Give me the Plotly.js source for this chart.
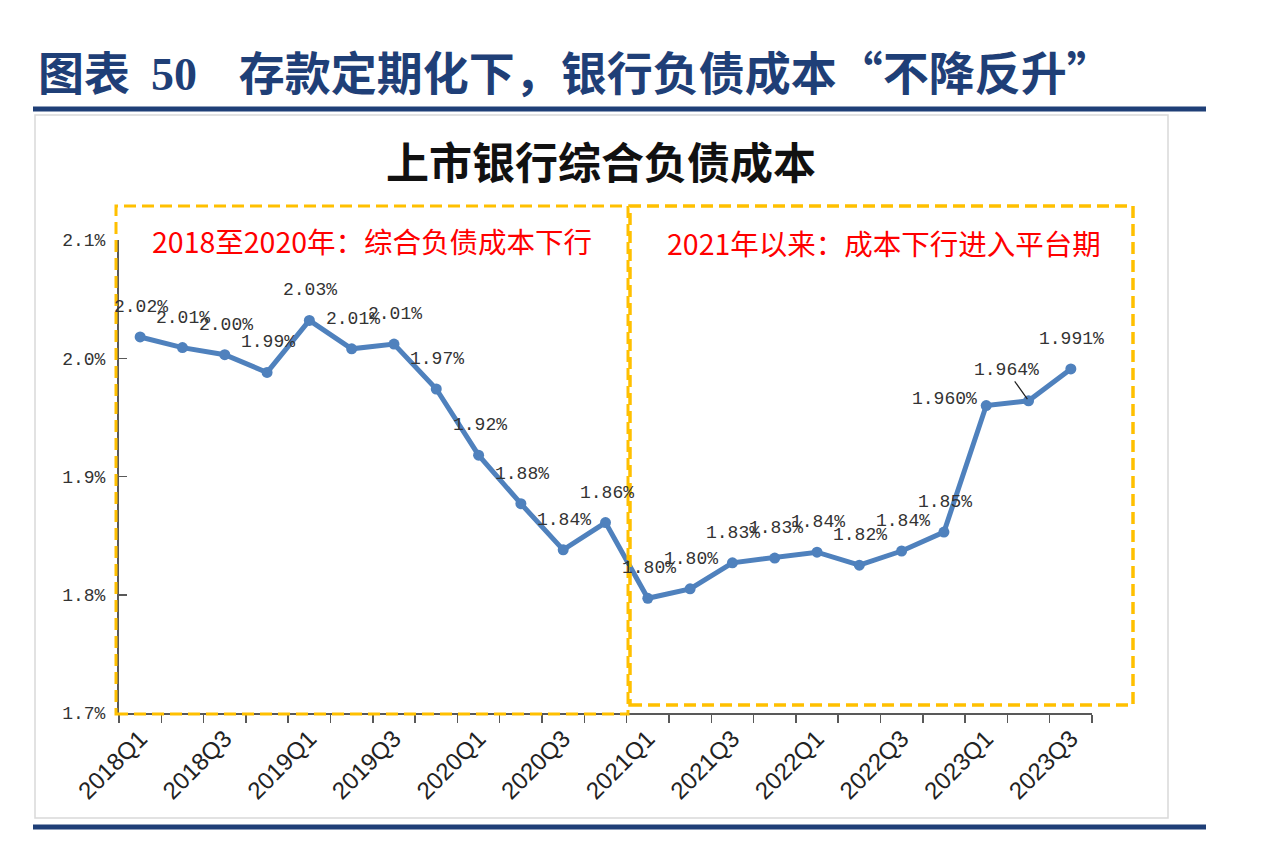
<!DOCTYPE html>
<html>
<head>
<meta charset="utf-8">
<script src="https://cdn.plot.ly/plotly-3.0.1.min.js"></script>
<style>
  body { margin: 0; background: #fff; }
  #chart { width: 1273px; height: 843px; }
</style>
</head>
<body>
<div id="chart"></div>
<script>
// 上市银行综合负债成本 (%)
var quarters = ['2018Q1', '2018Q2', '2018Q3', '2018Q4',
  '2019Q1', '2019Q2', '2019Q3', '2019Q4',
  '2020Q1', '2020Q2', '2020Q3', '2020Q4',
  '2021Q1', '2021Q2', '2021Q3', '2021Q4',
  '2022Q1', '2022Q2', '2022Q3', '2022Q4',
  '2023Q1', '2023Q2', '2023Q3'];

var cost = [2.018, 2.009, 2.003, 1.988,
  2.032, 2.008, 2.012, 1.974,
  1.918, 1.877, 1.838, 1.861,
  1.797, 1.805, 1.827, 1.831,
  1.836, 1.825, 1.837, 1.853,
  1.960, 1.964, 1.991];

var costLabels = ['2.02%', '2.01%', '2.00%', '1.99%',
  '2.03%', '2.01%', '2.01%', '1.97%',
  '1.92%', '1.88%', '1.84%', '1.86%',
  '1.80%', '1.80%', '1.83%', '1.83%',
  '1.84%', '1.82%', '1.84%', '1.85%',
  '1.960%', '1.964%', '1.991%'];

var yTicks = [1.7, 1.8, 1.9, 2.0, 2.1];

// only every other quarter gets a label on the x axis
var tickText = quarters.map(function(q, i) {
  return i % 2 === 0 ? q : '';
});
var yTickText = yTicks.map(function(v) { return v.toFixed(1) + '%'; });

// plot area in pixels
var L = 119, R = 181, T = 240, B = 130;
var W = 1273 - L - R, H = 843 - T - B;
function px(x) { return (x - L) / W; }
function py(y) { return (843 - B - y) / H; }

var labelFont = { family: 'Liberation Mono, DejaVu Sans Mono, monospace', size: 18, color: '#333' };

var dataLabels = quarters.map(function(q, i) {
  var a = {
    x: q, y: cost[i], xref: 'x', yref: 'y',
    text: costLabels[i], showarrow: false,
    font: labelFont, yshift: 30, xshift: 1
  };
  if (i === 20) { a.xshift = -42; a.yshift = 7; }
  if (i === 21) {
    a.showarrow = true; a.ax = -22; a.ay = -31; a.yshift = 0; a.xshift = 0;
    a.arrowhead = 0; a.arrowwidth = 1.2; a.arrowcolor = '#222'; a.standoff = 2;
  }
  return a;
});

var trace = {
  x: quarters,
  y: cost,
  type: 'scatter',
  mode: 'lines+markers',
  line: { color: '#4F81BD', width: 5 },
  marker: { color: '#4F81BD', size: 11 },
  hoverinfo: 'skip'
};

var layout = {
  width: 1273,
  height: 843,
  margin: { l: L, r: R, t: T, b: B },
  paper_bgcolor: '#fff',
  plot_bgcolor: 'rgba(0,0,0,0)',
  showlegend: false,
  xaxis: {
    type: 'category',
    range: [-0.5, 22.5],
    tickmode: 'array',
    tickvals: quarters,
    ticktext: tickText,
    tickson: 'boundaries',
    ticks: 'outside',
    ticklen: 8,
    tickwidth: 1.5,
    tickcolor: '#595959',
    tickangle: -45,
    tickfont: { family: 'Liberation Sans, Arial, sans-serif', size: 24, color: '#222' },
    showline: true,
    linecolor: '#595959',
    linewidth: 2,
    showgrid: false,
    zeroline: false,
    fixedrange: true
  },
  yaxis: {
    range: [1.7, 2.1],
    tickmode: 'array',
    tickvals: yTicks,
    ticktext: yTickText,
    ticks: 'inside',
    ticklen: 8,
    tickwidth: 1.5,
    tickcolor: '#595959',
    ticklabelstandoff: 8,
    tickfont: { family: 'Liberation Mono, DejaVu Sans Mono, monospace', size: 18, color: '#333' },
    showline: true,
    linecolor: '#595959',
    linewidth: 2,
    showgrid: false,
    zeroline: false,
    fixedrange: true
  },
  shapes: [
    // chart frame
    { type: 'rect', xref: 'paper', yref: 'paper', layer: 'below',
      x0: px(35), x1: px(1168), y0: py(818), y1: py(115),
      line: { color: '#d9d9d9', width: 1.5 } },
    // navy rules
    { type: 'line', xref: 'paper', yref: 'paper',
      x0: px(33), x1: px(1206), y0: py(109), y1: py(109),
      line: { color: '#1F3F77', width: 5 } },
    { type: 'line', xref: 'paper', yref: 'paper',
      x0: px(33), x1: px(1206), y0: py(827), y1: py(827),
      line: { color: '#1F3F77', width: 5 } },
    // dashed boxes
    { type: 'rect', xref: 'paper', yref: 'paper',
      x0: px(116), x1: px(628), y0: py(714), y1: py(206),
      line: { color: '#FFC000', width: 3, dash: '12px,6px' } },
    { type: 'rect', xref: 'paper', yref: 'paper',
      x0: px(630), x1: px(1133), y0: py(705), y1: py(206),
      line: { color: '#FFC000', width: 3.5, dash: '12px,6px' } }
  ],
  annotations: dataLabels.concat([
    { xref: 'paper', yref: 'paper', x: px(36), y: py(70), xanchor: 'left', yanchor: 'middle',
      showarrow: false,
      text: '<b>图表&nbsp;&nbsp;<span style="font-family:Liberation Serif">50</span>&nbsp;&nbsp;&nbsp;&nbsp;存款定期化下，银行负债成本“不降反升”</b>',
      font: { family: 'Noto Sans CJK SC, sans-serif', size: 46, color: '#1F3F77' } },
    { xref: 'paper', yref: 'paper', x: px(601), y: py(160), xanchor: 'center', yanchor: 'middle',
      showarrow: false,
      text: '<b>上市银行综合负债成本</b>',
      font: { family: 'Noto Sans CJK SC, sans-serif', size: 43, color: '#111' } },
    { xref: 'paper', yref: 'paper', x: px(150), y: py(240), xanchor: 'left', yanchor: 'middle',
      showarrow: false,
      text: '2018至2020年：综合负债成本下行',
      font: { family: 'Noto Sans CJK SC, sans-serif', size: 28.5, color: '#FF0000' } },
    { xref: 'paper', yref: 'paper', x: px(665), y: py(243), xanchor: 'left', yanchor: 'middle',
      showarrow: false,
      text: '2021年以来：成本下行进入平台期',
      font: { family: 'Noto Sans CJK SC, sans-serif', size: 28.5, color: '#FF0000' } }
  ])
};

Plotly.newPlot('chart', [trace], layout, { staticPlot: true, displayModeBar: false });
</script>
</body>
</html>
